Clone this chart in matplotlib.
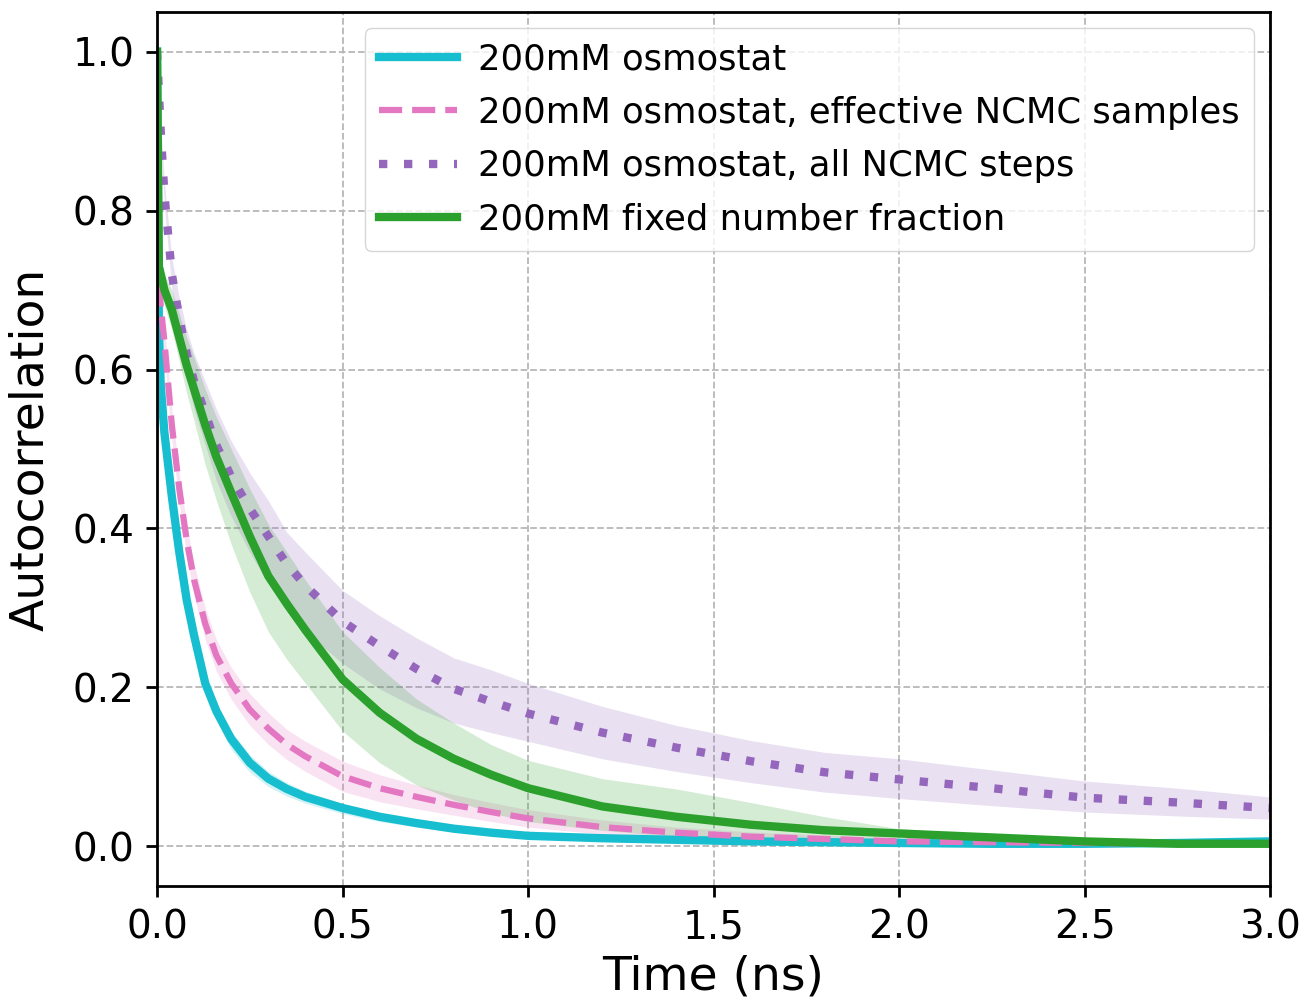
import matplotlib
matplotlib.use('Agg')
import matplotlib.pyplot as plt

# time lags (ns)
t = [0, 0.005, 0.01, 0.02, 0.04, 0.06, 0.08, 0.1, 0.13, 0.16, 0.2, 0.25, 0.3, 0.35, 0.4,
     0.5, 0.6, 0.7, 0.8, 0.9, 1.0, 1.2, 1.4, 1.6, 1.8, 2.0, 2.25, 2.5, 2.75, 3.0]

# 200mM osmostat
osmo = [1.0, 0.65, 0.58, 0.52, 0.44, 0.37, 0.31, 0.265, 0.205, 0.17, 0.135, 0.105, 0.085, 0.072, 0.062,
        0.048, 0.037, 0.029, 0.022, 0.017, 0.013, 0.01, 0.008, 0.006, 0.005, 0.004, 0.003, 0.003, 0.004, 0.006]
osmo_lo = [1.0, 0.64, 0.57, 0.51, 0.43, 0.36, 0.30, 0.255, 0.195, 0.158, 0.122, 0.093, 0.075, 0.063, 0.054,
           0.041, 0.031, 0.024, 0.018, 0.013, 0.01, 0.007, 0.005, 0.004, 0.003, 0.002, 0.001, 0.001, 0.002, 0.004]
osmo_hi = [1.0, 0.66, 0.59, 0.53, 0.45, 0.38, 0.32, 0.275, 0.215, 0.18, 0.145, 0.115, 0.094, 0.08, 0.069,
           0.054, 0.042, 0.033, 0.026, 0.02, 0.016, 0.013, 0.011, 0.008, 0.007, 0.006, 0.005, 0.005, 0.006, 0.008]

# 200mM osmostat, effective NCMC samples
eff = [1.0, 0.72, 0.68, 0.635, 0.53, 0.45, 0.385, 0.335, 0.28, 0.24, 0.205, 0.172, 0.148, 0.128, 0.113,
       0.088, 0.073, 0.062, 0.052, 0.043, 0.035, 0.024, 0.017, 0.012, 0.009, 0.006, 0.005, 0.004, 0.003, 0.003]
eff_lo = [1.0, 0.71, 0.665, 0.615, 0.51, 0.43, 0.365, 0.315, 0.26, 0.22, 0.185, 0.152, 0.128, 0.109, 0.094,
          0.069, 0.056, 0.047, 0.039, 0.031, 0.024, 0.015, 0.01, 0.006, 0.004, 0.002, 0.001, 0.001, 0.0, 0.0]
eff_hi = [1.0, 0.73, 0.695, 0.655, 0.55, 0.47, 0.405, 0.355, 0.3, 0.26, 0.225, 0.192, 0.168, 0.147, 0.132,
          0.107, 0.09, 0.077, 0.065, 0.055, 0.046, 0.033, 0.024, 0.018, 0.014, 0.01, 0.009, 0.007, 0.006, 0.006]

# 200mM osmostat, all NCMC steps
allsteps = [1.0, 0.95, 0.90, 0.82, 0.72, 0.665, 0.62, 0.585, 0.545, 0.505, 0.465, 0.425, 0.39, 0.355, 0.328,
            0.283, 0.252, 0.223, 0.198, 0.182, 0.167, 0.143, 0.124, 0.107, 0.093, 0.084, 0.073, 0.061, 0.055, 0.048]
allsteps_lo = [1.0, 0.945, 0.89, 0.805, 0.70, 0.64, 0.59, 0.55, 0.505, 0.46, 0.415, 0.37, 0.33, 0.295, 0.27,
               0.23, 0.198, 0.174, 0.155, 0.143, 0.132, 0.11, 0.094, 0.08, 0.068, 0.06, 0.051, 0.043, 0.038, 0.034]
allsteps_hi = [1.0, 0.955, 0.91, 0.835, 0.74, 0.69, 0.65, 0.62, 0.585, 0.55, 0.51, 0.47, 0.435, 0.395, 0.37,
               0.322, 0.29, 0.262, 0.237, 0.222, 0.205, 0.176, 0.152, 0.133, 0.118, 0.11, 0.096, 0.082, 0.073, 0.062]

# 200mM fixed number fraction
fixed = [1.0, 0.73, 0.72, 0.70, 0.675, 0.64, 0.605, 0.575, 0.53, 0.49, 0.445, 0.39, 0.34, 0.305, 0.272,
         0.21, 0.168, 0.135, 0.11, 0.09, 0.073, 0.05, 0.037, 0.027, 0.02, 0.016, 0.011, 0.006, 0.003, 0.003]
fixed_lo = [1.0, 0.72, 0.705, 0.68, 0.65, 0.61, 0.57, 0.535, 0.48, 0.435, 0.38, 0.32, 0.27, 0.235, 0.205,
            0.145, 0.105, 0.077, 0.058, 0.042, 0.031, 0.02, 0.012, 0.008, 0.006, 0.005, 0.004, 0.002, 0.0, 0.0]
fixed_hi = [1.0, 0.74, 0.735, 0.72, 0.70, 0.67, 0.64, 0.615, 0.575, 0.54, 0.5, 0.45, 0.405, 0.37, 0.335,
            0.27, 0.225, 0.185, 0.155, 0.128, 0.108, 0.085, 0.072, 0.055, 0.037, 0.022, 0.014, 0.009, 0.005, 0.005]

labels = ['200mM osmostat',
          '200mM osmostat, effective NCMC samples',
          '200mM osmostat, all NCMC steps',
          '200mM fixed number fraction']

plt.rcParams['font.family'] = 'DejaVu Sans'

fig = plt.figure(figsize=(13.03, 10.01), dpi=100)
ax = fig.add_axes([0.1205, 0.115, 0.8542, 0.873])

# shaded uncertainty bands
ax.fill_between(t, osmo_lo, osmo_hi, color='tab:cyan', alpha=0.2, lw=0)
ax.fill_between(t, eff_lo, eff_hi, color='tab:pink', alpha=0.2, lw=0)
ax.fill_between(t, allsteps_lo, allsteps_hi, color='tab:purple', alpha=0.2, lw=0)
ax.fill_between(t, fixed_lo, fixed_hi, color='tab:green', alpha=0.2, lw=0)

ax.plot(t, osmo, color='tab:cyan', lw=6, label=labels[0])
ax.plot(t, eff, color='tab:pink', lw=4.5, ls='--', label=labels[1])
ax.plot(t, allsteps, color='tab:purple', lw=6, ls=(0, (1, 2)), label=labels[2])
ax.plot(t, fixed, color='tab:green', lw=6, label=labels[3])

ax.set_xlim(0, 3.0)
ax.set_ylim(-0.05, 1.05)
ax.set_xticks([0.0, 0.5, 1.0, 1.5, 2.0, 2.5, 3.0])
ax.set_yticks([0.0, 0.2, 0.4, 0.6, 0.8, 1.0])
ax.tick_params(labelsize=28, length=8, width=2, pad=8)
ax.grid(True, color='#b8b8b8', ls='--', lw=1.3)
ax.set_axisbelow(True)
for s in ax.spines.values():
    s.set_linewidth(2)

ax.set_xlabel('Time (ns)', fontsize=34, labelpad=6)
ax.set_ylabel('Autocorrelation', fontsize=34, labelpad=14)

ax.legend(loc='upper right', fontsize=25.5, handlelength=2.2, handletextpad=0.6,
          labelspacing=0.55, borderaxespad=0.45)

fig.savefig('out.png', dpi=100)
